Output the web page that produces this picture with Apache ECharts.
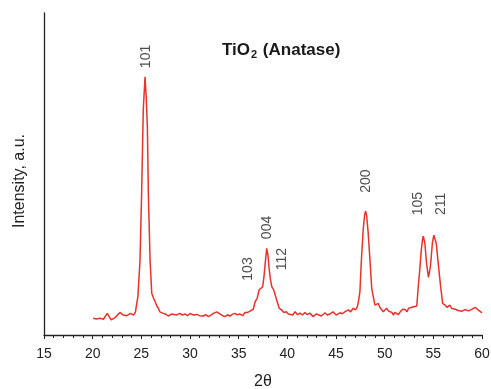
<!DOCTYPE html>
<html><head><meta charset="utf-8">
<script src="https://cdn.jsdelivr.net/npm/echarts@6/dist/echarts.min.js"></script>
<style>html,body{margin:0;padding:0;background:#fff}#c{width:491px;height:389px}</style>
</head><body><div id="c"></div>
<script>
var twoTheta = [20.05,20.4,20.75,21.1,21.5,21.9,22.3,22.8,23.15,23.5,23.9,24.2,24.4,24.45,24.65,24.86,25.03,25.2,25.38,25.5,25.62,25.72,25.9,26.07,26.25,26.4,26.6,26.75,26.9,27.1,27.26,27.5,27.77,28.1,28.3,28.6,28.97,29.2,29.5,29.75,30.0,30.35,30.7,31.0,31.37,31.6,31.9,32.15,32.4,32.75,33.1,33.35,33.6,33.85,34.1,34.35,34.6,34.85,35.14,35.4,35.65,35.9,36.17,36.5,36.7,36.9,37.1,37.26,37.47,37.6,37.75,37.88,38.0,38.12,38.25,38.4,38.6,38.75,38.9,39.17,39.4,39.65,39.9,40.1,40.27,40.55,40.8,41.05,41.3,41.55,41.8,42.05,42.3,42.67,42.95,43.2,43.5,43.87,44.1,44.35,44.7,45.0,45.4,45.65,45.9,46.1,46.27,46.5,46.78,47.0,47.2,47.3,47.46,47.6,47.8,47.95,48.05,48.15,48.3,48.5,48.67,48.8,49.0,49.2,49.35,49.5,49.7,49.86,50.05,50.2,50.4,50.55,50.75,50.9,51.05,51.2,51.4,51.6,51.85,52.1,52.3,52.45,52.65,52.8,53.0,53.3,53.45,53.6,53.75,53.9,53.97,54.13,54.3,54.5,54.7,54.9,55.05,55.15,55.3,55.5,55.75,55.96,56.2,56.4,56.55,56.7,56.9,57.05,57.25,57.4,57.55,57.7,57.95,58.25,58.45,58.6,58.75,58.9,59.1,59.3,59.45,59.6,59.8,60.0];
var intensity = [5.2,5.0,5.2,4.9,6.7,4.7,5.4,7.0,6.2,6.0,6.7,6.2,7.2,8.3,12,23,44,70,80.2,74,64.7,44,23,13,11.5,10.9,9.0,8.3,7.2,7.8,6.7,6.5,5.9,6.5,6.0,6.2,6.7,6.2,6.5,6.0,6.7,6.2,6.4,6.0,5.9,6.3,5.7,6.2,6.7,7.2,6.5,6.0,5.7,6.3,5.9,6.4,6.7,6.3,6.5,6.0,7.0,7.0,7.4,8.0,10.4,11.4,14,13.5,15,18.1,23,26.9,25,21,17.5,15,14,12.5,10.9,8.3,7.8,7.0,7.2,6.5,6.7,6.2,7.2,6.3,6.8,6.2,7.0,6.3,6.8,5.7,6.5,6.3,5.9,6.9,6.2,6.5,7.2,6.2,6.9,6.6,7.2,6.8,7.8,7.2,8.3,7.8,8.8,10.3,13.5,22.8,33,37.5,38.5,37,32,22.8,14.5,12.4,9.3,9.0,9.8,8.6,8.8,7.2,7.8,8.3,7.4,7.8,7.0,6.2,7.0,7.2,6.3,7.2,8.0,7.9,7.2,8.3,8.8,8.6,8.0,9.0,15,20,26,30,30.7,28.5,22.3,17.9,21.2,28.5,31,30.8,28.5,22.3,15,9.8,9.3,8.6,9.0,9.3,8.2,8.6,8.0,8.3,7.6,7.8,7.4,7.9,7.3,7.5,7.9,7.9,7.5,8.6,8.0,7.8,7.4,6.9];
var peakNames = ['101','103','004','112','200','105','211'];
var peakLabelX = [25.48,35.96,37.91,39.45,48.08,53.43,55.79];
var peakLabelY = [86.5,20.5,33.4,23.6,47.8,40.8,40.7];
var xTicks = [15,20,25,30,35,40,45,50,55,60];

var chart = echarts.init(document.getElementById('c'), null, {renderer:'canvas'});
var lineData = twoTheta.map(function(x,i){return [x,intensity[i]];});
var labelData = peakNames.map(function(n,i){return {value:[peakLabelX[i],peakLabelY[i]], name:n};});
var font = 'Liberation Sans, Arial, sans-serif';
chart.setOption({
  animation:false,
  title:{
    text:'{b|TiO}{s|2}{b| (Anatase)}',
    left:217, top:35,
    textStyle:{rich:{
      b:{fontSize:17,fontWeight:'bold',fontFamily:font,color:'#1a1a1a',lineHeight:20},
      s:{fontSize:11,fontWeight:'bold',fontFamily:font,color:'#1a1a1a',lineHeight:20,padding:[10,1,0,1]}
    }}
  },
  grid:{left:44,right:9,top:13,bottom:54,outerBoundsMode:'none',containLabel:false},
  xAxis:{
    type:'value',min:15,max:60,interval:5,
    axisLine:{show:true,onZero:false,lineStyle:{color:'#222',width:1.3}},
    axisTick:{show:true,inside:false,length:4,lineStyle:{color:'#222',width:1}},
    minorTick:{show:true,splitNumber:5,length:3,lineStyle:{color:'#222',width:1}},
    splitLine:{show:false},
    axisLabel:{fontSize:14,fontFamily:font,color:'#222',margin:12,
      formatter:function(v){return xTicks.indexOf(v)>=0?String(v):'';}},
    name:'2θ',nameLocation:'middle',nameGap:39,
    nameTextStyle:{fontSize:16,fontFamily:font,color:'#222'}
  },
  yAxis:{
    type:'value',min:0,max:100,
    axisLine:{show:true,lineStyle:{color:'#222',width:1.3}},
    axisTick:{show:false},axisLabel:{show:false},splitLine:{show:false},
    name:'Intensity, a.u.',nameLocation:'middle',nameGap:16,
    nameTextStyle:{fontSize:16,fontFamily:font,color:'#222',padding:[0,14,0,0]}
  },
  series:[
    {type:'line',data:lineData,showSymbol:false,symbol:'none',smooth:false,
      lineStyle:{color:'#e8322b',width:1.5},silent:true},
    {type:'scatter',data:labelData,symbolSize:0,silent:true,
      label:{show:true,position:'inside',rotate:90,formatter:function(p){return p.name;},
        fontSize:14,fontFamily:font,color:'#222'}}
  ]
});
</script></body></html>
